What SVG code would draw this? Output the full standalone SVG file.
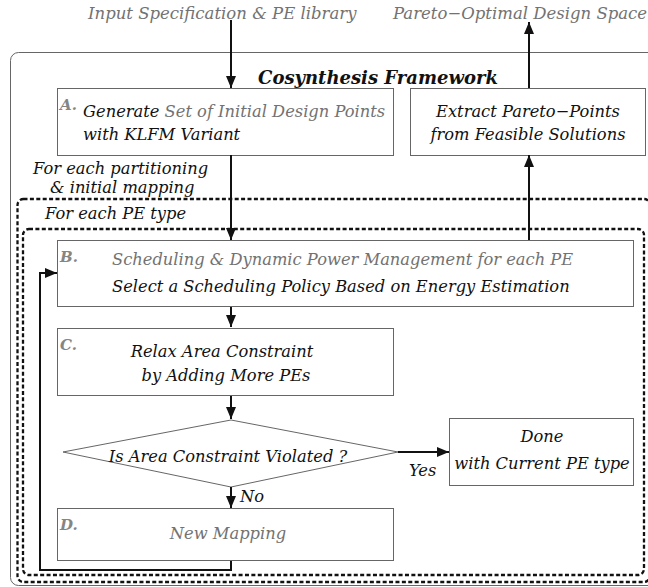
<svg xmlns="http://www.w3.org/2000/svg" width="648" height="587" viewBox="0 0 648 587">
<style>
.t{font-family:"DejaVu Serif","Liberation Serif",serif;font-style:italic;font-size:16.3px;fill:#111}
.top{font-size:16.5px}
.g{fill:#727272}
.lbl{font-family:"DejaVu Serif","Liberation Serif",serif;font-weight:bold;font-style:italic;font-size:15px;fill:#858585}
.title{font-family:"DejaVu Serif","Liberation Serif",serif;font-weight:bold;font-style:italic;font-size:18px;fill:#111}
.box{fill:#fff;stroke:#666;stroke-width:1}
.dot{fill:none;stroke:#111;stroke-width:2.3;stroke-dasharray:4 2.4}
.ln{fill:none;stroke:#111;stroke-width:2}
</style>
<defs>
<marker id="ah" viewBox="0 0 12 10" refX="12" refY="5" markerWidth="6" markerHeight="5" orient="auto" markerUnits="strokeWidth">
<path d="M0,0 L12,5 L0,10 Z" fill="#111"/>
</marker>
</defs>
<g id="framework">
<rect x="10.5" y="52.5" width="700" height="533" rx="8" fill="none" stroke="#666" stroke-width="1"/>
<text class="title" x="378" y="84" text-anchor="middle">Cosynthesis Framework</text>
</g>
<g id="loop-partition">
<rect class="dot" x="17.5" y="199" width="632.5" height="383" rx="6"/>
<text class="t" x="33" y="174">For each partitioning</text>
<text class="t" x="50" y="193">&amp; initial mapping</text>
</g>
<g id="loop-petype">
<rect class="dot" x="23" y="229" width="621" height="346" rx="6"/>
<text class="t" x="45" y="219">For each PE type</text>
</g>
<g id="input"><text class="t g top" x="88" y="19">Input Specification &amp; PE library</text></g>
<g id="output"><text class="t g top" x="393" y="19">Pareto−Optimal Design Space</text></g>
<g id="nodeA">
<rect class="box" x="57.5" y="88.5" width="336" height="67"/>
<text class="lbl" x="60" y="110">A.</text>
<text class="t" x="83" y="117">Generate <tspan class="g">Set of Initial Design Points</tspan></text>
<text class="t" x="83" y="140">with KLFM Variant</text>
</g>
<g id="nodeExtract">
<rect class="box" x="410.5" y="88.5" width="235" height="67"/>
<text class="t" x="528" y="117" text-anchor="middle">Extract Pareto−Points</text>
<text class="t" x="528" y="140" text-anchor="middle">from Feasible Solutions</text>
</g>
<g id="nodeB">
<rect class="box" x="57.5" y="240.5" width="576" height="66"/>
<text class="lbl" x="60" y="262">B.</text>
<text class="t g" x="112" y="265">Scheduling &amp; Dynamic Power Management for each PE</text>
<text class="t" x="112" y="292">Select a Scheduling Policy Based on Energy Estimation</text>
</g>
<g id="nodeC">
<rect class="box" x="57.5" y="328.5" width="336" height="67"/>
<text class="lbl" x="60" y="350">C.</text>
<text class="t" x="222" y="357" text-anchor="middle">Relax Area Constraint</text>
<text class="t" x="226" y="381" text-anchor="middle">by Adding More PEs</text>
</g>
<g id="decision">
<polygon points="231,420 398,452 231,487 63,452" fill="#fff" stroke="#666" stroke-width="1"/>
<text class="t" x="228" y="462" text-anchor="middle">Is Area Constraint Violated ?</text>
</g>
<g id="nodeDone">
<rect class="box" x="449.5" y="418.5" width="184" height="67"/>
<text class="t" x="542" y="442" text-anchor="middle">Done</text>
<text class="t" x="542" y="469" text-anchor="middle">with Current PE type</text>
</g>
<g id="nodeD">
<rect class="box" x="57.5" y="508.5" width="336" height="52"/>
<text class="lbl" x="60" y="530">D.</text>
<text class="t g" x="228" y="539" text-anchor="middle">New Mapping</text>
</g>
<g id="connectors">
<line class="ln" x1="231" y1="20" x2="231" y2="88" marker-end="url(#ah)"/>
<line class="ln" x1="529" y1="88" x2="529" y2="22" marker-end="url(#ah)"/>
<line class="ln" x1="231" y1="155" x2="231" y2="240" marker-end="url(#ah)"/>
<line class="ln" x1="529" y1="240" x2="529" y2="155" marker-end="url(#ah)"/>
<line class="ln" x1="231" y1="307" x2="231" y2="327" marker-end="url(#ah)"/>
<line class="ln" x1="231" y1="396" x2="231" y2="419" marker-end="url(#ah)"/>
<line class="ln" x1="398" y1="452" x2="449" y2="452" marker-end="url(#ah)"/>
<line class="ln" x1="231" y1="487" x2="231" y2="508" marker-end="url(#ah)"/>
<polyline class="ln" points="231,561 231,570 40,570 40,273 57,273" marker-end="url(#ah)"/>
<text class="t" x="409" y="476">Yes</text>
<text class="t" x="240" y="502">No</text>
</g>
</svg>
